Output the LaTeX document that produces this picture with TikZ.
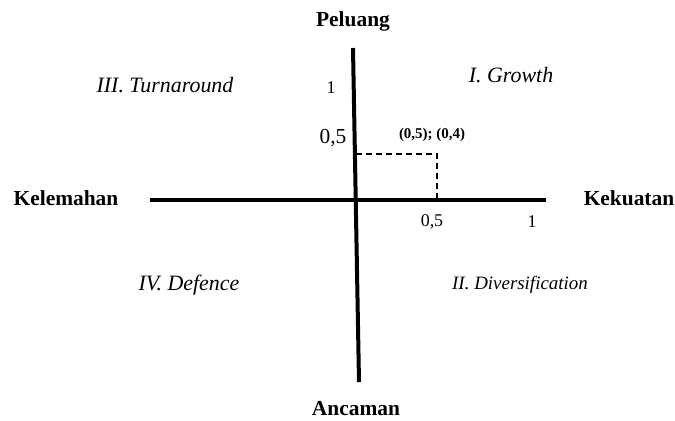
\documentclass[tikz,border=0pt]{standalone}
\usepackage{fontspec}
\setmainfont{Liberation Serif}
\usepackage{tikz}

\begin{document}
\begin{tikzpicture}[x=1bp,y=-1bp,
  axis/.style={line width=4bp},
  side/.style={font=\fontsize{21.5}{25}\selectfont\bfseries},
  quad/.style={font=\fontsize{22}{26}\selectfont\itshape},
  tick/.style={font=\fontsize{18}{22}\selectfont},
  guide/.style={line width=1.5bp,dash pattern=on 6bp off 4bp}]
\useasboundingbox (0,0) rectangle (675,420);
% axes
\coordinate (top) at (353,48);
\coordinate (bot) at (359,382);
\coordinate (left) at (150,200);
\coordinate (right) at (546,200);
\draw [axis] (left) -- (right);
\draw [axis] (top) -- (bot);
% axis names
\node [side] (o) at (353,21) {Peluang};
\node [side] (t) at (356,409) {Ancaman};
\node [side] (w) at (66,198) {Kelemahan};
\node [side] (s) at (629,198) {Kekuatan};
% ticks
\node [tick] (y1) at (331,88) {1};
\node [tick,font=\fontsize{21.5}{25}\selectfont] (y5) at (333,138) {0,5};
\node [tick] (x5) at (432,222) {0,5};
\node [tick] (x1) at (532,222) {1};
% position
\coordinate (py) at (356,154);
\coordinate (pt) at (437,154);
\coordinate (px) at (437,198);
\draw [guide] (py) -- (pt) -- (px);
\node [font=\fontsize{15}{18}\selectfont\bfseries] (p) at (432,135) {(0,5); (0,4)};
% quadrants
\node [quad] (q1) at (511,75) {I. Growth};
\node [quad,font=\fontsize{19}{23}\selectfont\itshape] (q2) at (520,285) {II. Diversification};
\node [quad] (q3) at (165,85) {III. Turnaround};
\node [quad] (q4) at (189,285) {IV. Defence};
\end{tikzpicture}
\end{document}
